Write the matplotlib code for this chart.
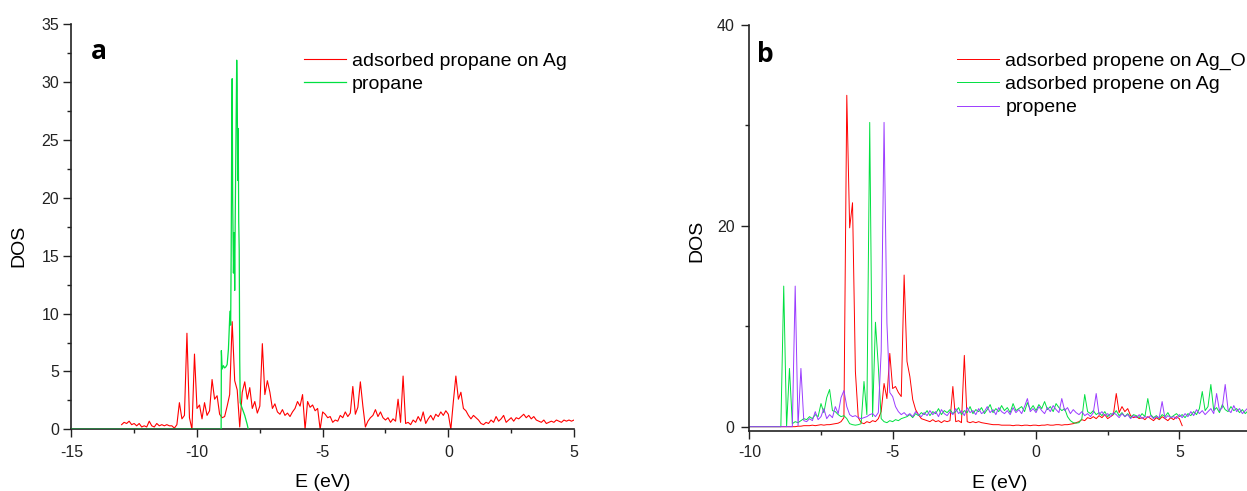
import numpy as np
import matplotlib
matplotlib.use("Agg")
import matplotlib.pyplot as plt
from matplotlib.ticker import MultipleLocator

plt.rcParams['font.family'] = ['Liberation Sans', 'DejaVu Sans']
plt.rcParams['axes.unicode_minus'] = False

# ---- panel a: propane (DOS, 0.1 eV steps) ----
e_ads_propane = np.linspace(-13.0, 5.0, 181)
dos_ads_propane = [
    0.4, 0.6, 0.5, 0.7, 0.4, 0.5, 0.3, 0.5, 0.2, 0.3,   # -13.0
    0.2, 0.7, 0.3, 0.2, 0.5, 0.3, 0.4, 0.3, 0.4, 0.3,   # -12.0
    0.3, 0.1, 0.4, 2.3, 0.9, 1.2, 8.3, 1.0, 0.0, 6.5,   # -11.0
    1.8, 2.1, 0.9, 2.3, 1.2, 1.6, 4.3, 2.6, 2.9, 1.3,   # -10.0
    1.0, 1.1, 2.0, 3.0, 9.3, 4.2, 3.4, 0.2, 3.2, 4.1,   # -9.0
    2.6, 3.6, 1.8, 2.4, 1.4, 2.0, 7.4, 3.0, 4.2, 3.2,   # -8.0
    1.8, 2.2, 1.5, 1.3, 1.7, 1.2, 1.4, 1.1, 1.5, 1.8,   # -7.0
    2.4, 2.0, 3.0, 0.0, 2.4, 1.9, 2.1, 1.6, 1.8, 0.0,   # -6.0
    1.5, 1.3, 1.0, 1.1, 0.6, 0.8, 0.7, 1.2, 1.0, 1.5,   # -5.0
    1.1, 1.4, 3.7, 1.3, 1.9, 4.1, 2.0, 0.2, 0.7, 1.0,   # -4.0
    1.2, 1.7, 1.1, 1.5, 1.0, 0.8, 1.0, 0.6, 0.9, 0.7,   # -3.0
    2.6, 0.6, 4.6, 0.5, 0.6, 0.4, 0.8, 0.6, 1.1, 0.7,   # -2.0
    1.5, 0.5, 0.9, 1.2, 0.8, 1.3, 1.1, 1.5, 1.2, 1.6,   # -1.0
    1.3, 0.0, 2.4, 4.6, 2.6, 3.2, 1.8, 1.6, 1.2, 0.9,   # 0.0
    1.2, 1.0, 0.8, 0.5, 0.4, 0.6, 0.5, 0.8, 0.6, 1.1,   # 1.0
    0.7, 0.9, 1.2, 0.6, 0.8, 1.0, 0.7, 1.0, 0.9, 1.1,   # 2.0
    1.3, 1.0, 1.2, 0.9, 1.1, 0.8, 0.7, 0.6, 0.8, 0.5,   # 3.0
    0.6, 0.7, 0.6, 0.8, 0.7, 0.6, 0.8, 0.7, 0.8, 0.7,   # 4.0
    0.8,                                                # 5.0
]

e_propane = [-15.0, -9.04, -9.03, -9.0, -8.95, -8.9, -8.85, -8.8, -8.75, -8.72,
             -8.69, -8.66, -8.64, -8.62, -8.6, -8.58, -8.55, -8.52, -8.5, -8.48,
             -8.45, -8.42, -8.4, -8.38, -8.36, -8.34, -8.32, -8.3, -8.28, -8.2,
             -8.1, -8.0, -7.96]
dos_propane = [0.0, 0.0, 6.8, 5.2, 5.5, 5.3, 5.4, 5.6, 6.9, 8.5,
               10.2, 9.0, 15.2, 24.7, 30.3, 19.8, 13.5, 17.0, 12.0, 18.0,
               25.0, 31.9, 29.3, 21.5, 26.0, 18.0, 15.5, 6.0, 2.3, 1.8,
               1.2, 0.4, 0.0]

# ---- panel b: propene (0.1 eV steps from -10 eV) ----
e_propene = np.linspace(-10.0, 7.5, 176)
dos_ads_propene_ago = [
    0, 0, 0, 0, 0, 0, 0, 0, 0, 0,                        # -10.0
    0, 0, 0, 0, 0, 0, 0, 0.05, 0.05, 0.1,                # -9.0
    0.1, 0.1, 0.15, 0.1, 0.15, 0.2, 0.15, 0.2, 0.2, 0.25,  # -8.0
    0.3, 0.35, 0.5, 0.9, 33.0, 19.8, 22.3, 5.5, 0.9, 0.4,  # -7.0
    0.3, 0.5, 0.4, 0.6, 0.5, 0.8, 1.5, 4.3, 2.8, 7.3,    # -6.0
    3.8, 4.0, 3.4, 3.0, 15.1, 6.5, 5.0, 2.7, 1.7, 1.2,   # -5.0
    0.8, 0.7, 0.6, 0.5, 0.7, 0.5, 0.6, 0.4, 0.6, 0.5,    # -4.0
    0.6, 4.0, 0.5, 0.6, 0.4, 7.1, 0.5, 0.4, 0.5, 0.4,    # -3.0
    0.5, 0.4, 0.35, 0.3, 0.25, 0.2, 0.2, 0.2, 0.15, 0.15,  # -2.0
    0.15, 0.15, 0.1, 0.15, 0.15, 0.1, 0.15, 0.15, 0.1, 0.15,  # -1.0
    0.15, 0.1, 0.15, 0.15, 0.2, 0.15, 0.15, 0.2, 0.2, 0.15,  # 0.0
    0.2, 0.2, 0.25, 0.3, 0.4, 0.5, 0.7, 0.6, 0.9, 0.8,   # 1.0
    1.0, 0.8, 1.1, 0.9, 1.2, 0.8, 1.0, 1.2, 3.3, 1.4,    # 2.0
    2.0, 1.5, 1.8, 1.1, 0.9, 1.0, 0.8, 0.9, 0.7, 1.0,    # 3.0
    0.8, 0.6, 0.9, 0.7, 1.0, 0.8, 0.6, 0.9, 0.7, 1.0,    # 4.0
    0.8, 0.1,                                            # 5.0
]
dos_ads_propene_ag = [
    0, 0, 0, 0, 0, 0, 0, 0, 0, 0,                        # -10.0
    0, 0, 14.0, 0, 5.8, 0.3, 0.5, 0.4, 0.6, 0.8,         # -9.0
    0.7, 1.0, 0.8, 1.2, 1.0, 2.3, 1.4, 2.9, 3.7, 1.6,    # -8.0
    1.5, 1.2, 1.0, 1.1, 0.8, 0.3, 0.2, 0.15, 0.2, 0.3,   # -7.0
    4.5, 1.2, 30.3, 1.0, 10.4, 6.0, 0.8, 0.5, 0.4, 0.6,  # -6.0
    0.5, 0.7, 0.6, 0.8, 0.9, 1.0, 1.2, 0.9, 1.3, 1.1,    # -5.0
    1.4, 1.2, 1.6, 1.1, 1.5, 1.3, 1.8, 1.2, 1.6, 1.4,    # -4.0
    1.7, 1.3, 1.5, 1.9, 1.2, 1.6, 1.4, 2.0, 1.3, 1.7,    # -3.0
    1.5, 1.9, 1.3, 1.7, 2.2, 1.4, 1.8, 1.5, 2.1, 1.6,    # -2.0
    1.9, 1.4, 2.3, 1.6, 1.8, 2.0, 1.5, 2.4, 1.7, 2.1,    # -1.0
    1.6, 2.2, 1.8, 2.5, 1.7, 2.0, 1.5, 2.3, 1.9, 1.6,    # 0.0
    1.8, 1.0, 0.6, 0.4, 0.35, 0.4, 0.8, 3.2, 1.5, 1.3,   # 1.0
    1.6, 1.2, 1.4, 1.1, 1.5, 1.0, 1.3, 1.2, 1.6, 1.1,    # 2.0
    1.4, 1.0, 1.3, 0.9, 1.2, 1.1, 0.9, 1.3, 1.0, 2.8,    # 3.0
    1.2, 0.9, 1.1, 0.8, 1.2, 1.0, 1.4, 0.9, 1.1, 1.3,    # 4.0
    1.0, 1.2, 0.9, 1.3, 1.1, 1.5, 1.2, 1.8, 3.5, 1.6,    # 5.0
    2.0, 4.2, 1.6, 1.9, 1.4, 2.2, 1.7, 1.5, 2.0, 1.6,    # 6.0
    1.8, 1.4, 1.7, 1.3, 1.6, 1.5,                        # 7.0
]
dos_propene = [
    0, 0, 0, 0, 0, 0, 0, 0, 0, 0,                        # -10.0
    0, 0, 0, 0, 0, 0, 14.0, 0.1, 5.8, 0.6,               # -9.0
    0.5, 0.8, 0.6, 1.5, 0.7, 1.0, 1.8, 0.8, 1.2, 0.9,    # -8.0
    2.0, 1.3, 2.9, 3.6, 2.0, 1.2, 1.0, 1.1, 0.9, 0.8,    # -7.0
    0.9, 1.0, 1.2, 1.3, 1.0, 1.4, 7.5, 30.3, 10.3, 3.4,  # -6.0
    3.0, 2.0, 1.5, 1.2, 1.4, 1.1, 1.3, 1.0, 1.5, 1.2,    # -5.0
    1.0, 1.4, 1.1, 1.6, 1.2, 1.5, 1.0, 1.7, 1.3, 1.1,    # -4.0
    1.5, 1.2, 1.8, 1.3, 1.6, 1.1, 1.9, 1.4, 1.6, 1.2,    # -3.0
    1.8, 1.3, 1.5, 2.0, 1.4, 1.7, 1.2, 1.9, 1.5, 1.3,    # -2.0
    1.6, 1.2, 1.9, 1.4, 1.7, 1.3, 2.0, 2.8, 1.5, 1.8,    # -1.0
    1.4, 2.0, 1.6, 1.3, 1.9, 1.5, 2.1, 1.7, 1.4, 2.8,    # 0.0
    1.6, 1.9, 1.3, 1.7, 1.4, 1.2, 1.5, 1.1, 1.3, 1.0,    # 1.0
    1.4, 3.3, 1.2, 1.5, 1.1, 1.3, 1.0, 1.4, 1.2, 0.9,    # 2.0
    1.3, 1.0, 1.2, 0.8, 1.1, 0.9, 1.2, 0.8, 1.0, 0.9,    # 3.0
    1.1, 0.8, 1.0, 0.9, 2.5, 0.8, 1.1, 0.9, 1.0, 0.8,    # 4.0
    1.2, 0.9, 1.3, 1.0, 1.5, 1.1, 1.7, 1.3, 1.6, 1.2,    # 5.0
    1.5, 1.8, 1.3, 3.3, 1.6, 1.9, 4.2, 1.7, 1.4, 2.1,    # 6.0
    1.5, 1.8, 1.3, 1.6, 1.9, 1.4,                        # 7.0
]

RED = '#ff0000'
GREEN = '#00e040'
PURPLE = '#9b3cff'
INK = '#222222'

fig = plt.figure(figsize=(12.47, 4.91), dpi=100)
ax1 = fig.add_axes([0.0572, 0.1257, 0.4031, 0.8248])
ax2 = fig.add_axes([0.6009, 0.1222, 0.4023, 0.8269])


def style(ax, xpad, ypad):
    for s in ['top', 'right']:
        ax.spines[s].set_visible(False)
    for s in ['left', 'bottom']:
        ax.spines[s].set_linewidth(1.2)
        ax.spines[s].set_color(INK)
    ax.tick_params(which='major', direction='out', length=5.5, width=1,
                   labelsize=11.5, colors=INK)
    ax.tick_params(which='minor', direction='out', length=2.8, width=1, colors=INK)
    ax.tick_params(axis='x', which='major', pad=xpad)
    ax.tick_params(axis='y', which='major', pad=ypad)


# panel a
ax1.plot(e_ads_propane, dos_ads_propane, color=RED, lw=0.8,
         label='adsorbed propane on Ag')
ax1.plot(e_propane, dos_propane, color=GREEN, lw=0.9, label='propane', zorder=3)
ax1.set_xlim(-15, 5)
ax1.set_ylim(0, 35)
ax1.xaxis.set_major_locator(MultipleLocator(5))
ax1.xaxis.set_minor_locator(MultipleLocator(2.5))
ax1.yaxis.set_major_locator(MultipleLocator(5))
ax1.yaxis.set_minor_locator(MultipleLocator(2.5))
style(ax1, 5.5, 3.2)
ax1.set_xlabel('E (eV)', fontsize=14)
ax1.set_ylabel('DOS', fontsize=14)
ax1.xaxis.set_label_coords(0.5, -0.110)
ax1.yaxis.set_label_coords(-0.088, 0.4526)
ax1.legend(loc='upper left', bbox_to_anchor=(0.462, 0.930), frameon=False,
           fontsize=14, handlelength=2.2, handletextpad=0.3, labelspacing=0.275,
           borderaxespad=0, borderpad=0)

# panel b
ax2.plot(e_propene[:len(dos_ads_propene_ago)], dos_ads_propene_ago, color=RED,
         lw=0.7, label='adsorbed propene on Ag_O')
ax2.plot(e_propene, dos_ads_propene_ag, color=GREEN, lw=0.7,
         label='adsorbed propene on Ag')
ax2.plot(e_propene, dos_propene, color=PURPLE, lw=0.7, label='propene')
ax2.set_xlim(-10, 7.5)
ax2.set_ylim(-0.43, 40)
ax2.xaxis.set_major_locator(MultipleLocator(5))
ax2.xaxis.set_minor_locator(MultipleLocator(2.5))
ax2.yaxis.set_major_locator(MultipleLocator(20))
ax2.yaxis.set_minor_locator(MultipleLocator(10))
style(ax2, 4.5, 5.0)
ax2.set_xlabel('E (eV)', fontsize=14)
ax2.set_ylabel('DOS', fontsize=14)
ax2.xaxis.set_label_coords(0.5, -0.108)
ax2.yaxis.set_label_coords(-0.0877, 0.468)
ax2.legend(loc='upper left', bbox_to_anchor=(0.4134, 0.934), frameon=False,
           fontsize=14, handlelength=2.2, handletextpad=0.3, labelspacing=0.3,
           borderaxespad=0, borderpad=0)

fig.text(0.0727, 0.8798, 'a', fontsize=19, fontweight='bold',
         family=['Open Sans', 'DejaVu Sans'])
fig.text(0.607, 0.873, 'b', fontsize=19, fontweight='bold',
         family=['Open Sans', 'DejaVu Sans'])

fig.savefig('out.png', dpi=100)
